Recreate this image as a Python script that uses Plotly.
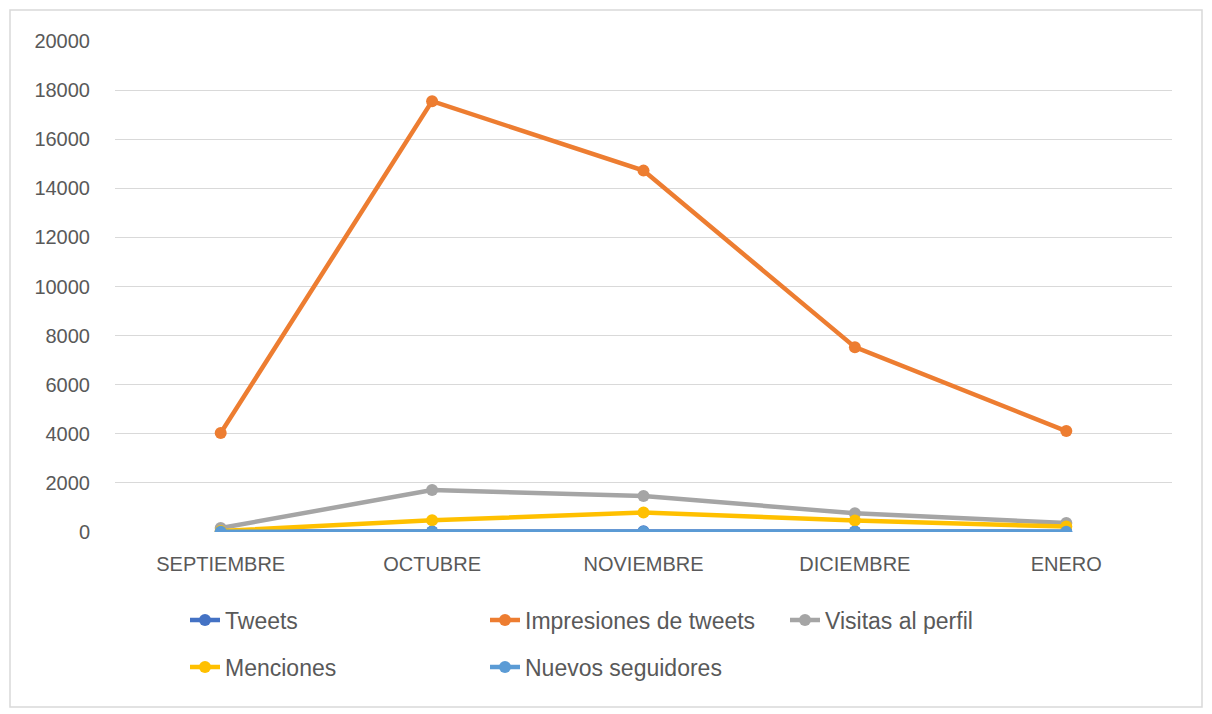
import plotly.graph_objects as go

months = ["SEPTIEMBRE", "OCTUBRE", "NOVIEMBRE", "DICIEMBRE", "ENERO"]
tweets = [20, 25, 30, 20, 15]
impresiones = [4030, 17550, 14720, 7530, 4110]
visitas = [160, 1710, 1470, 760, 370]
menciones = [40, 480, 790, 470, 220]
nuevos = [10, 15, 15, 10, 8]
y_ticks = [0, 2000, 4000, 6000, 8000, 10000, 12000, 14000, 16000, 18000, 20000]

series = [
    ("Tweets", tweets, "#4472C4", "legend"),
    ("Impresiones de tweets", impresiones, "#ED7D31", "legend"),
    ("Visitas al perfil", visitas, "#A5A5A5", "legend"),
    ("Menciones", menciones, "#FFC000", "legend2"),
    ("Nuevos seguidores", nuevos, "#5B9BD5", "legend2"),
]

W, H = 1204, 706
L, R, T, B = 107, 40, 33, 182
PW, PH = W - L - R, H - T - B

fig = go.Figure()
for name, vals, color, lg in series:
    fig.add_trace(go.Scatter(
        x=months, y=vals, name=name, mode="lines+markers",
        line=dict(color=color, width=4.5),
        marker=dict(color=color, size=12),
        legend=lg,
    ))

def px_x(p):
    return (p - L) / PW

def px_y(p):
    return (H - B - p) / PH

legend_common = dict(
    orientation="h", xanchor="left", yanchor="middle",
    entrywidth=255, entrywidthmode="pixels",
    font=dict(size=23, color="#595959", family="Liberation Sans, Arial, sans-serif"),
    traceorder="normal", bgcolor="rgba(0,0,0,0)",
)

fig.update_layout(
    width=W, height=H,
    margin=dict(l=L, r=R, t=T, b=B, autoexpand=False),
    plot_bgcolor="white", paper_bgcolor="white",
    font=dict(family="Liberation Sans, Arial, sans-serif", color="#595959", size=20),
    showlegend=True,
    legend=dict(x=px_x(177), y=px_y(612), **legend_common),
    legend2=dict(x=px_x(177), y=px_y(659), **legend_common),
    xaxis=dict(
        range=[-0.5, 4.5],
        showgrid=False, showline=False, zeroline=False,
        ticks="", ticklabelstandoff=18,
        tickfont=dict(size=20, color="#595959"),
    ),
    yaxis=dict(
        range=[0, 20000], tickvals=y_ticks, tickformat="d",
        showgrid=True, gridcolor="#D9D9D9", gridwidth=1,
        zeroline=False, showline=False, ticks="",
        ticklabelstandoff=24,
        tickfont=dict(size=20, color="#595959"),
    ),
    shapes=[dict(
        type="rect", xref="paper", yref="paper",
        x0=px_x(2), x1=px_x(1194),
        y0=px_y(699), y1=px_y(2),
        line=dict(color="#D9D9D9", width=1.5), layer="below",
    )],
)

fig.write_html("out.html")
